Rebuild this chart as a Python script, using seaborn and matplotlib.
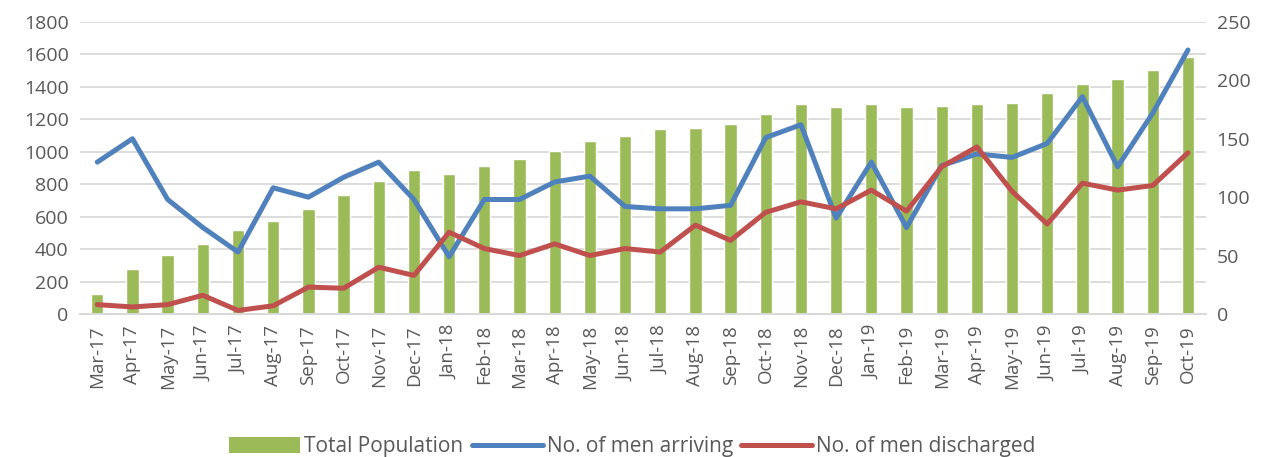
import numpy as np
import pandas as pd
import matplotlib
matplotlib.use('Agg')
import matplotlib.pyplot as plt
import seaborn as sns
from matplotlib.lines import Line2D
from matplotlib.patches import Patch

# ── Data ──────────────────────────────────────────────────────────────────
months = ['Mar-17', 'Apr-17', 'May-17', 'Jun-17', 'Jul-17', 'Aug-17', 'Sep-17', 'Oct-17',
          'Nov-17', 'Dec-17', 'Jan-18', 'Feb-18', 'Mar-18', 'Apr-18', 'May-18', 'Jun-18',
          'Jul-18', 'Aug-18', 'Sep-18', 'Oct-18', 'Nov-18', 'Dec-18', 'Jan-19', 'Feb-19',
          'Mar-19', 'Apr-19', 'May-19', 'Jun-19', 'Jul-19', 'Aug-19', 'Sep-19', 'Oct-19']
total_population = [125, 280, 365, 430, 520, 570, 645, 735, 820, 890, 865, 915, 955, 1005,
                    1065, 1100, 1140, 1145, 1170, 1235, 1295, 1275, 1295, 1275, 1280, 1295,
                    1300, 1360, 1415, 1450, 1505, 1585]
men_arriving = [130, 150, 98, 74, 53, 108, 100, 117, 130, 98, 49, 98, 98, 113, 118, 92,
                90, 90, 93, 151, 162, 82, 130, 74, 127, 137, 134, 146, 186, 126, 172, 226]
men_discharged = [8, 6, 8, 16, 3, 7, 23, 22, 40, 33, 70, 56, 50, 60, 50, 56,
                  53, 76, 63, 87, 96, 90, 106, 88, 126, 143, 105, 77, 112, 106, 110, 138]

GREEN, BLUE, RED = '#9BBB59', '#4F81BD', '#C0504D'
TEXT = '#595959'

df = pd.DataFrame({'month': months, 'pos': np.arange(len(months)),
                   'total': total_population,
                   'arriving': men_arriving, 'discharged': men_discharged})

sns.set_style('white')
plt.rcParams['font.family'] = ['Open Sans', 'DejaVu Sans']

fig = plt.figure(figsize=(12.65, 4.57), dpi=100)
ax = fig.add_axes([0.063, 0.313, 0.890, 0.639])

sns.barplot(data=df, x='month', y='total', color=GREEN, width=0.35,
            saturation=1, ax=ax, zorder=2)
ax.set_ylim(0, 1800)
ax.set_yticks(range(0, 1801, 200))
ax.set_xlim(-0.5, len(months) - 0.5)
ax.yaxis.grid(True, color='#D9D9D9', lw=1.3, zorder=0)
ax.set_axisbelow(True)
ax.set_xlabel('')
ax.set_ylabel('')

ax2 = ax.twinx()
sns.lineplot(data=df, x='pos', y='arriving', color=BLUE, lw=3.6, ax=ax2)
sns.lineplot(data=df, x='pos', y='discharged', color=RED, lw=3.6, ax=ax2)
ax2.set_ylim(0, 250)
ax2.set_yticks(range(0, 251, 50))
ax2.set_xlim(-0.5, len(months) - 0.5)
ax2.set_xlabel('')
ax2.set_ylabel('')

for a in (ax, ax2):
    for s in ('top', 'left', 'right'):
        a.spines[s].set_visible(False)
    a.spines['bottom'].set_color('#D9D9D9')
    a.spines['bottom'].set_linewidth(1.3)
    a.tick_params(axis='y', length=0, labelsize=14, labelcolor=TEXT, pad=8)

ax.set_xticks(range(len(months)))
ax.set_xticklabels(months, rotation=90)
ax.set_xticks(np.arange(-0.5, len(months), 1), minor=True)
ax.tick_params(axis='x', which='major', length=0, labelsize=13.5, labelcolor=TEXT, pad=8)
ax.tick_params(axis='x', which='minor', length=6, color='#D9D9D9', width=1.3, direction='out')
ax2.tick_params(axis='x', which='both', length=0, labelbottom=False)

handles = [Patch(facecolor=GREEN, edgecolor='none'),
           Line2D([0], [0], color=BLUE, lw=3.6),
           Line2D([0], [0], color=RED, lw=3.6)]
labels = ['Total Population', 'No. of men arriving', 'No. of men discharged']
fig.legend(handles, labels, loc='center', bbox_to_anchor=(0.5, 0.022), ncol=3,
           frameon=False, fontsize=15, labelcolor=TEXT, handlelength=3.4,
           handleheight=0.8, columnspacing=0.4, handletextpad=0.2)

fig.savefig('out.png', dpi=100)
